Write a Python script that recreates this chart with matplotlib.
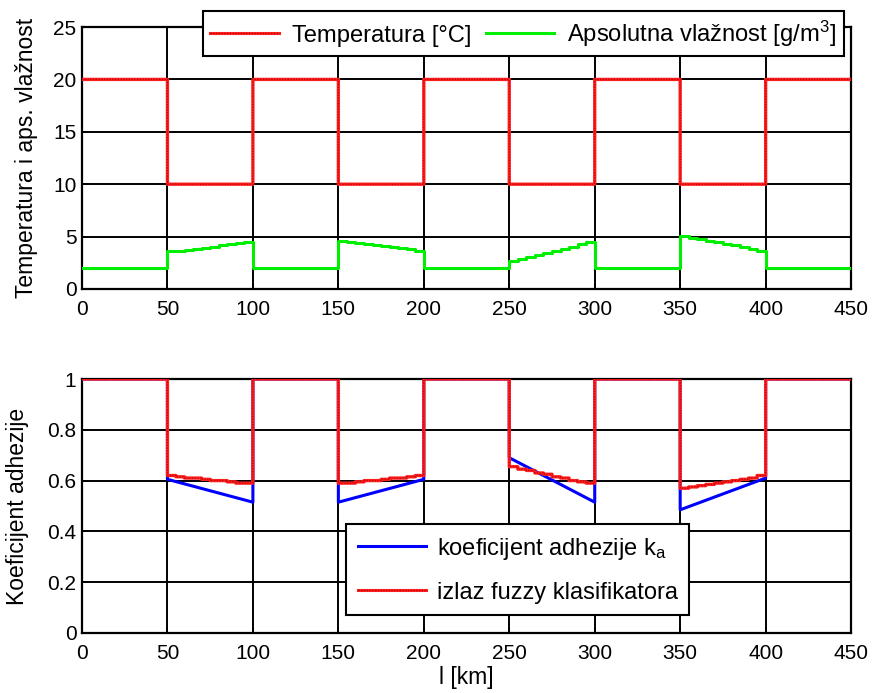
import numpy as np
import matplotlib
matplotlib.use("Agg")
import matplotlib.pyplot as plt
from matplotlib.lines import Line2D

plt.rcParams['font.family'] = ['Liberation Sans', 'DejaVu Sans']
plt.rcParams['mathtext.default'] = 'regular'
plt.rcParams['font.size'] = 15

# ---------------- data ----------------
# distance grid (km), 5 km samples, values hold until next sample
dist = list(range(0, 455, 5))

temp = ([20] * 10 + [10] * 10 + [20] * 10 + [10] * 10 + [20] * 10 +
        [10] * 10 + [20] * 10 + [10] * 10 + [20] * 10 + [20])

hum_dry = [2] * 10
hum_seg1 = [3.6, 3.65, 3.75, 3.85, 3.95, 4.05, 4.15, 4.25, 4.35, 4.5]
hum_seg2 = [4.55, 4.45, 4.4, 4.3, 4.2, 4.1, 4.0, 3.95, 3.85, 3.65]
hum_seg3 = [2.65, 2.85, 3.05, 3.25, 3.45, 3.65, 3.85, 4.05, 4.25, 4.5]
hum_seg4 = [5.05, 4.9, 4.75, 4.6, 4.45, 4.3, 4.15, 4.0, 3.85, 3.65]
humidity = (hum_dry + hum_seg1 + hum_dry + hum_seg2 + hum_dry + hum_seg3 +
            hum_dry + hum_seg4 + hum_dry + [2])

ka_x = [0, 50, 50, 100, 100, 150, 150, 200, 200, 250, 250, 300, 300, 350, 350, 400, 400, 450]
ka_y = [1, 1, 0.605, 0.515, 1, 1, 0.515, 0.605, 1, 1, 0.69, 0.515, 1, 1, 0.485, 0.61, 1, 1]

fz_one = [1] * 10
fz_seg1 = [0.62, 0.615, 0.61, 0.61, 0.605, 0.60, 0.60, 0.595, 0.59, 0.59]
fz_seg2 = [0.59, 0.59, 0.595, 0.60, 0.60, 0.605, 0.61, 0.61, 0.615, 0.62]
fz_seg3 = [0.655, 0.645, 0.64, 0.63, 0.625, 0.615, 0.61, 0.60, 0.595, 0.59]
fz_seg4 = [0.57, 0.575, 0.58, 0.585, 0.59, 0.595, 0.60, 0.605, 0.61, 0.62]
fuzzy = (fz_one + fz_seg1 + fz_one + fz_seg2 + fz_one + fz_seg3 +
         fz_one + fz_seg4 + fz_one + [1])

xticks = [0, 50, 100, 150, 200, 250, 300, 350, 400, 450]
yticks_top = [0, 5, 10, 15, 20, 25]
yticks_bot = [0, 0.2, 0.4, 0.6, 0.8, 1]

# ---------------- figure ----------------
fig = plt.figure(figsize=(8.74, 6.93), dpi=100)
ax1 = fig.add_axes([0.0938, 0.583, 0.88, 0.378])
ax2 = fig.add_axes([0.0938, 0.0866, 0.88, 0.3665])

RED = '#ff2020'
DARKRED = '#c00000'
LABEL_FS = 16.5
TICK_FS = 15


def red_line(ax, x, y, ds='default', z=3):
    ax.plot(x, y, color=RED, lw=2.4, drawstyle=ds, zorder=z, snap=False)
    ax.plot(x, y, color=DARKRED, lw=0.9, ls=(0, (1, 1.2)), drawstyle=ds,
            zorder=z + 0.1, snap=False)


def style(ax, yticks, ylim):
    ax.set_xlim(0, 450)
    ax.set_ylim(*ylim)
    ax.set_xticks(xticks)
    ax.set_yticks(yticks)
    ax.set_yticklabels([('%g' % v) for v in yticks])
    ax.grid(True, color='black', lw=1.4)
    ax.set_axisbelow(True)
    for s in ax.spines.values():
        s.set_linewidth(1.6)
        s.set_color('black')
    ax.tick_params(direction='in', length=4, width=1.2, labelsize=TICK_FS)
    ax.tick_params(axis='x', pad=8)
    ax.tick_params(axis='y', pad=4)


# top
red_line(ax1, dist, temp, ds='steps-post')
ax1.plot(dist, humidity, color='#00ee00', lw=2.2, drawstyle='steps-post', zorder=3)
style(ax1, yticks_top, (0, 25))
ax1.set_ylabel('Temperatura i aps. vlažnost', fontsize=LABEL_FS, labelpad=11)

h_t = (Line2D([], [], color=RED, lw=2.2), Line2D([], [], color=DARKRED, lw=0.9, ls=(0, (1, 1.2))))
h_h = Line2D([], [], color='#00ee00', lw=2.2)
leg1 = ax1.legend([h_t, h_h], ['Temperatura [°C]', 'Apsolutna vlažnost [g/m$^3$]'],
                  ncol=2, loc='upper left', bbox_to_anchor=(0.157, 1.06),
                  frameon=True, fancybox=False, framealpha=1, edgecolor='black',
                  handlelength=2.9, columnspacing=0.6, handletextpad=0.55,
                  borderpad=0.3, borderaxespad=0, fontsize=17.1)
leg1.get_frame().set_linewidth(1.5)
leg1.set_zorder(10)

# bottom
ax2.plot(ka_x, ka_y, color='#0000ff', lw=2.2, zorder=3, snap=False)
red_line(ax2, dist, fuzzy, ds='steps-post', z=4)
style(ax2, yticks_bot, (0, 1))
ax2.set_ylabel('Koeficijent adhezije', fontsize=LABEL_FS, labelpad=13)
ax2.set_xlabel('l [km]', fontsize=LABEL_FS, labelpad=2)

h_k = Line2D([], [], color='#0000ff', lw=2.2)
leg2 = ax2.legend([h_k, h_t], ['koeficijent adhezije k$_a$', 'izlaz fuzzy klasifikatora'],
                  loc='upper left', bbox_to_anchor=(0.343, 0.43),
                  frameon=True, fancybox=False, framealpha=1, edgecolor='black',
                  handlelength=2.9, handletextpad=0.45, labelspacing=0.85,
                  borderpad=0.5, borderaxespad=0, fontsize=17)
leg2.get_frame().set_linewidth(1.5)
leg2.set_zorder(10)

fig.savefig('out.png', dpi=100)
